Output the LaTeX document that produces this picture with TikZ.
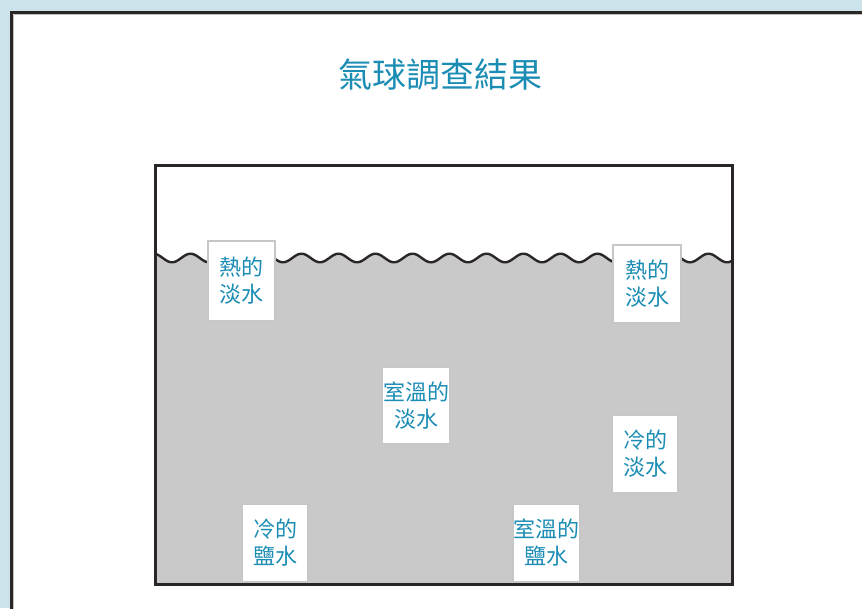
\documentclass[tikz,border=0pt]{standalone}
\usepackage{fontspec}
\newfontfamily\cjk{Noto Sans CJK TC}
\definecolor{bgblue}{HTML}{CCE3EC}
\definecolor{frame}{HTML}{2B2626}
\definecolor{tankgray}{HTML}{C9C9C9}
\definecolor{inkteal}{HTML}{1B8DB4}
\tikzset{
  card/.style={draw=black!22, line width=1.5pt, fill=white, inner sep=0pt,
    minimum width=66pt, minimum height=78pt, align=center, text=inkteal,
    font=\cjk\fontsize{22}{27}\selectfont},
  waveline/.style={draw=frame, line width=2.4pt},
  tankline/.style={draw=frame, line width=3pt},
}
\begin{document}
\begin{tikzpicture}[x=1pt,y=-1pt]
\useasboundingbox (0,0) rectangle (862,608);
\clip (0,0) rectangle (862,608);
\fill[bgblue] (0,0) rectangle (862,608);
\filldraw[fill=white, draw=frame, line width=3pt] (11,12) rectangle (880,630);
\draw[black!25, line width=1pt] (13.5,14.5) -- (880,14.5);
\draw[black!25, line width=1pt] (13.5,14.5) -- (13.5,630);
\node[text=inkteal, font=\cjk\fontsize{34}{40}\selectfont] (title) at (440,75) {氣球調查結果};
% water
\fill[tankgray] plot[domain=155:732, samples=400] (\x, {258-4.3*cos(9.72973*(\x-153.5))}) -- (732,584) -- (155,584) -- cycle;
\draw[waveline] plot[domain=155:732, samples=400] (\x, {258-4.3*cos(9.72973*(\x-153.5))});
\draw[tankline] (155,165) rectangle (732,584);
% cards
\node[card, minimum width=67pt, minimum height=80pt] (c1) at (241.5,281) {熱的\\淡水};
\node[card, minimum width=68pt] (c2) at (647,284) {熱的\\淡水};
\node[card, minimum width=68pt, minimum height=77pt] (c3) at (416,405.5) {室溫的\\淡水};
\node[card] (c4) at (645,454) {冷的\\淡水};
\node[card, minimum height=77pt] (c5) at (275,543) {冷的\\鹽水};
\node[card, minimum width=67pt, minimum height=77pt] (c6) at (546.5,543) {室溫的\\鹽水};
\end{tikzpicture}
\end{document}
